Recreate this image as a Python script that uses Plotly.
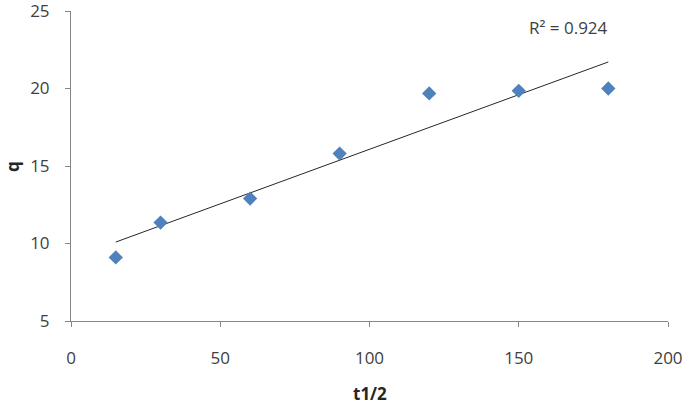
import numpy as np
import plotly.graph_objects as go

t_half = [15, 30, 60, 90, 120, 150, 180]
q_vals = [9.1, 11.35, 12.9, 15.8, 19.68, 19.85, 20.0]
x_ticks = [0, 50, 100, 150, 200]
y_ticks = [5, 10, 15, 20, 25]
r2_label = "R\u00b2 = 0.924"

slope, intercept = np.polyfit(t_half, q_vals, 1)
trend_x = [min(t_half), max(t_half)]
trend_y = [slope * v + intercept for v in trend_x]

fig = go.Figure()
fig.add_trace(go.Scatter(x=trend_x, y=trend_y, mode="lines",
                         line=dict(color="#262626", width=1), showlegend=False,
                         hoverinfo="skip"))
fig.add_trace(go.Scatter(x=t_half, y=q_vals, mode="markers",
                         marker=dict(symbol="diamond", size=11, color="#4F81BD",
                                     line=dict(width=0)),
                         showlegend=False))

font_fam = "Open Sans, Liberation Sans, sans-serif"
axis_common = dict(showgrid=False, zeroline=False, showline=True, automargin=False,
                   linecolor="#868686", linewidth=1, ticks="outside",
                   tickcolor="#868686", ticklen=5, tickwidth=1,
                   ticklabeloverflow="allow",
                   tickfont=dict(family=font_fam, size=17, color="#404040"))

fig.update_layout(
    width=685, height=405,
    margin=dict(l=71, r=17, t=11, b=84),
    paper_bgcolor="white", plot_bgcolor="white",
    xaxis=dict(range=[0, 200], tickvals=x_ticks, ticklabelstandoff=17, **axis_common),
    yaxis=dict(range=[5, 25], tickvals=y_ticks, ticklabelstandoff=12, **axis_common),
    annotations=[
        dict(x=0.8325, y=0.948, xref="paper", yref="paper", text=r2_label,
             showarrow=False, xanchor="center", yanchor="middle",
             font=dict(family=font_fam, size=17, color="#404040")),
        dict(x=0.5, y=-0.235, xref="paper", yref="paper", text="<b>t1/2</b>",
             showarrow=False, xanchor="center", yanchor="middle",
             font=dict(family=font_fam, size=17, color="#262626")),
        dict(x=-0.099, y=0.5, xref="paper", yref="paper", text="<b>q</b>",
             showarrow=False, xanchor="center", yanchor="middle", textangle=-90,
             font=dict(family=font_fam, size=17, color="#262626")),
    ],
)

fig.write_html("out.html", config={"displayModeBar": False},
               post_script="document.body.style.margin='0';document.body.style.overflow='hidden';")
